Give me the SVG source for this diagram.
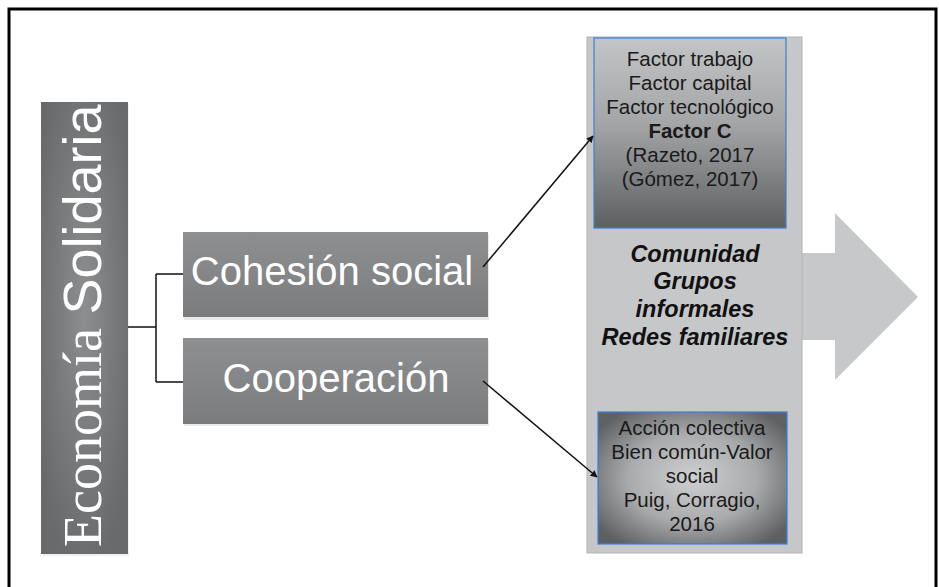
<svg xmlns="http://www.w3.org/2000/svg" width="939" height="587" viewBox="0 0 939 587">
<defs>
<radialGradient id="gEco" cx="0.5" cy="0.45" r="0.6">
<stop offset="0" stop-color="#8d8e90"/>
<stop offset="1" stop-color="#696a6c"/>
</radialGradient>
<linearGradient id="gMid" x1="0" y1="0" x2="0" y2="1">
<stop offset="0" stop-color="#8e8f91"/>
<stop offset="1" stop-color="#7b7c7e"/>
</linearGradient>
<linearGradient id="gTop" x1="0" y1="0" x2="0" y2="1">
<stop offset="0" stop-color="#c3c4c6"/>
<stop offset="0.45" stop-color="#a4a5a7"/>
<stop offset="1" stop-color="#5e5f61"/>
</linearGradient>
<radialGradient id="gBot" cx="0.5" cy="0.5" r="0.62">
<stop offset="0" stop-color="#cfd0d2"/>
<stop offset="0.55" stop-color="#a9aaac"/>
<stop offset="1" stop-color="#5f6062"/>
</radialGradient>
<marker id="ah" viewBox="0 0 10 10" refX="9" refY="5" markerWidth="7" markerHeight="7" markerUnits="userSpaceOnUse" orient="auto">
<path d="M0,0 L10,5 L0,10 z" fill="#111"/>
</marker>
</defs>
<style>
.wt{fill:#ffffff;font-family:"Liberation Sans",Arial,sans-serif;font-size:40px;text-anchor:middle}
.dk{fill:#1a1a1a;font-family:"Liberation Sans",Arial,sans-serif;font-size:20.5px;text-anchor:middle}
.bi{fill:#111;font-family:"Liberation Sans",Arial,sans-serif;font-size:23.5px;font-weight:bold;font-style:italic;text-anchor:middle}
.con{fill:none;stroke:#111;stroke-width:1.5}
.inner{stroke:#3b7fd8;stroke-width:1.2}
</style>
<rect x="0" y="0" width="939" height="587" fill="#ffffff"/>
<path d="M9,590 L9,9 L936,9 L936,590" fill="none" stroke="#000" stroke-width="3"/>

<g id="economia">
<rect x="42" y="104" width="87" height="452" fill="#e6e6e6" opacity="0.6"/>
<rect x="41" y="102" width="87" height="452" fill="url(#gEco)"/>
<text transform="translate(101,547) rotate(-90)" fill="#ffffff" font-size="54"><tspan font-family="'Liberation Serif','Times New Roman',serif">Economía </tspan><tspan font-family="'Liberation Sans',Arial,sans-serif">Solidaria</tspan></text>
</g>

<g id="cohesion">
<rect x="184" y="234" width="305" height="86" fill="#dcdcdc" opacity="0.6"/>
<rect x="183" y="232" width="305" height="85" fill="url(#gMid)"/>
<text class="wt" x="332" y="285">Cohesión social</text>
</g>

<g id="cooperacion">
<rect x="184" y="340" width="305" height="86" fill="#dcdcdc" opacity="0.6"/>
<rect x="183" y="338" width="305" height="86" fill="url(#gMid)"/>
<text class="wt" x="336" y="392">Cooperación</text>
</g>

<g id="panel">
<polygon points="790,253 835,253 835,213 918,297 835,380 835,340 790,340" fill="#c7c8ca"/>
<rect x="587" y="37" width="215" height="516" fill="#c6c7c9" stroke="#b3b4b6" stroke-width="1"/>
<text class="bi" x="695" y="262">Comunidad</text>
<text class="bi" x="695" y="289">Grupos</text>
<text class="bi" x="695" y="317">informales</text>
<text class="bi" x="695" y="345">Redes familiares</text>
</g>

<g id="factores">
<rect class="inner" x="594" y="38" width="192" height="190" fill="url(#gTop)"/>
<text class="dk" x="690" y="66">Factor trabajo</text>
<text class="dk" x="690" y="90">Factor capital</text>
<text class="dk" x="690" y="114">Factor tecnológico</text>
<text class="dk" x="690" y="138" font-weight="bold">Factor C</text>
<text class="dk" x="690" y="162">(Razeto, 2017</text>
<text class="dk" x="690" y="186">(Gómez, 2017)</text>
</g>

<g id="accion">
<rect class="inner" x="598" y="412" width="189" height="132" fill="url(#gBot)"/>
<text class="dk" x="692" y="435">Acción colectiva</text>
<text class="dk" x="692" y="459">Bien común-Valor</text>
<text class="dk" x="692" y="483">social</text>
<text class="dk" x="692" y="507">Puig, Corragio,</text>
<text class="dk" x="692" y="531">2016</text>
</g>

<g id="connectors">
<path class="con" d="M128,327 H156 M156,274 V382 M156,274 H183 M156,382 H183"/>
<line class="con" x1="483" y1="267" x2="593" y2="136" marker-end="url(#ah)"/>
<line class="con" x1="483" y1="381" x2="597" y2="477" marker-end="url(#ah)"/>
</g>
</svg>
